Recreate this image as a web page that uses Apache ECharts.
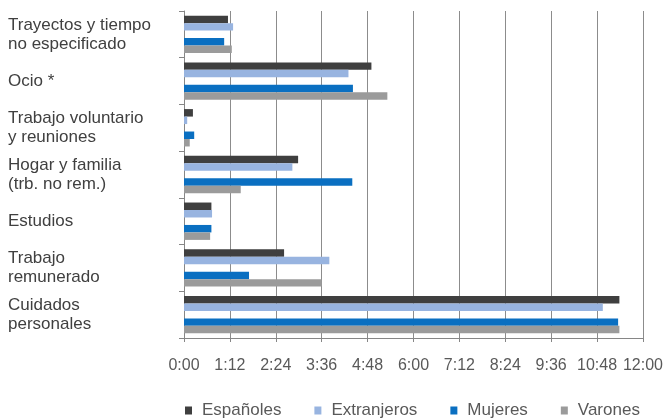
<!DOCTYPE html>
<html>
<head>
<meta charset="utf-8">
<script src="https://cdn.jsdelivr.net/npm/echarts@6/dist/echarts.min.js"></script>
<style>html,body{margin:0;padding:0;background:#fff;}#c{width:666px;height:419px;}</style>
</head>
<body>
<div id="c"></div>
<script>
// categories top to bottom
var categories = ['Trayectos y tiempo\nno especificado', 'Ocio *', 'Trabajo voluntario\ny reuniones', 'Hogar y familia\n(trb. no rem.)', 'Estudios', 'Trabajo\nremunerado', 'Cuidados\npersonales'];
// values in minutes
var espanoles   = [69, 294, 14, 179, 43, 157, 683];
var extranjeros = [77, 258, 5, 170, 44, 228, 657];
var mujeres     = [63, 265, 16, 264, 43, 102, 681];
var varones     = [75, 319, 9, 89, 41, 216, 683];
var seriesNames = ['Españoles', 'Extranjeros', 'Mujeres', 'Varones'];
var tickMin = 0, tickMax = 720, tickStep = 72;

function fmt(v) {
  var h = Math.floor(v / 60), m = Math.round(v % 60);
  return h + ':' + (m < 10 ? '0' + m : m);
}
var font = 'Liberation Sans, Arial, sans-serif';
var chart = echarts.init(document.getElementById('c'), null, {renderer: 'canvas'});
function bar(name, data, color) {
  return {name: name, type: 'bar', data: data, barGap: '0%', barCategoryGap: '20%',
    itemStyle: {color: color}, silent: true};
}
chart.setOption({
  animation: false,
  grid: {left: 184, right: 23, top: 11, bottom: 81, containLabel: false},
  legend: {
    data: seriesNames, left: 180, top: 397, icon: 'rect', itemWidth: 7, itemHeight: 8,
    itemGap: 33, textStyle: {fontFamily: font, fontSize: 17, color: '#595959', padding: [0, 0, 0, 5]}
  },
  xAxis: {
    type: 'value', min: tickMin, max: tickMax, interval: tickStep,
    axisLine: {show: true, lineStyle: {color: '#868686'}},
    axisTick: {show: true, length: 4, lineStyle: {color: '#868686'}},
    splitLine: {show: true, lineStyle: {color: '#8c8c8c', width: 1}},
    axisLabel: {formatter: fmt, fontFamily: font, fontSize: 16, color: '#595959', margin: 20}
  },
  yAxis: {
    type: 'category', data: categories, inverse: true,
    axisLine: {show: true, lineStyle: {color: '#868686'}},
    axisTick: {show: true, length: 5, lineStyle: {color: '#868686'}},
    axisLabel: {align: 'left', margin: 176, fontFamily: font, fontSize: 17, lineHeight: 19, color: '#404040'}
  },
  series: [
    bar('Españoles', espanoles, '#3f3f3f'),
    bar('Extranjeros', extranjeros, '#98b4e0'),
    bar('', [null, null, null, null, null, null, null], 'rgba(0,0,0,0)'),
    bar('Mujeres', mujeres, '#0a6fc1'),
    bar('Varones', varones, '#9b9b9b')
  ]
});
</script>
</body>
</html>
